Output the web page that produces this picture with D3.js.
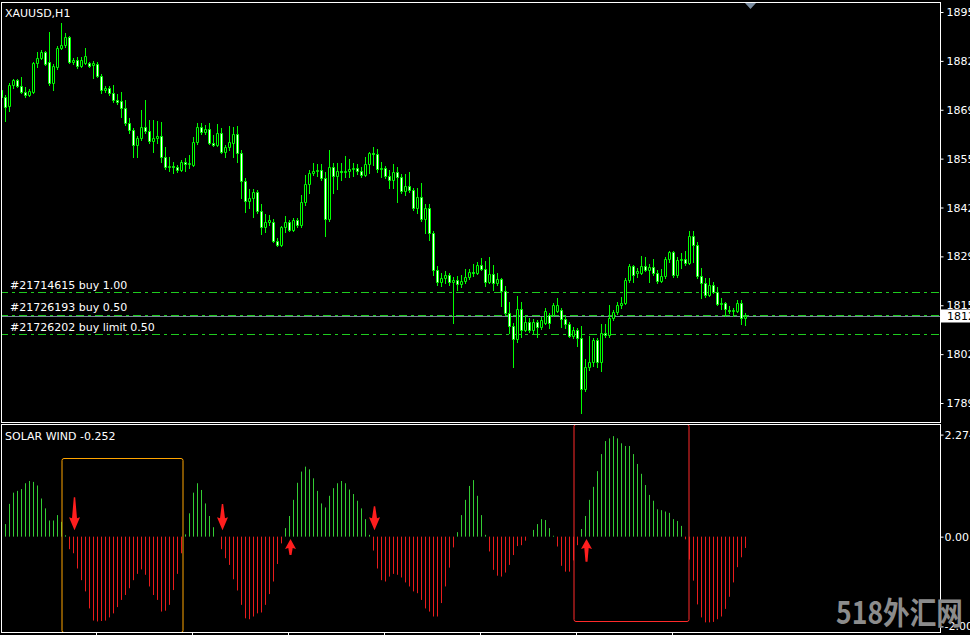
<!DOCTYPE html>
<html><head><meta charset="utf-8">
<script src="https://cdn.jsdelivr.net/npm/d3@7"></script>
<style>html,body{margin:0;padding:0;background:#000;overflow:hidden}</style>
</head><body><svg id="c" width="970" height="635"></svg>
<script>
// ---------------- DATA ----------------
const symbolTitle = "XAUUSD,H1";
const indicatorName = "SOLAR WIND";
// hourly candles [open, high, low, close]
const candles = [
[1874.5,1877.0,1871.8,1872.6],[1872.6,1873.1,1866.1,1869.9],[1870.1,1876.4,1868.8,1875.9],[1875.9,1877.5,1875.1,1877.2],
[1877.2,1877.5,1875.3,1875.6],[1875.6,1878.1,1873.7,1874.0],[1874.0,1875.3,1872.6,1873.1],[1873.1,1874.8,1872.9,1874.2],
[1874.0,1882.1,1873.7,1881.9],[1881.9,1884.9,1880.8,1883.2],[1883.2,1885.4,1883.0,1884.9],[1884.9,1885.1,1881.3,1881.6],
[1882.1,1890.3,1875.9,1876.4],[1876.4,1881.6,1874.5,1881.0],[1880.8,1886.5,1880.2,1885.9],[1885.9,1892.8,1885.7,1886.8],
[1886.8,1890.0,1886.2,1888.9],[1888.9,1889.2,1881.9,1882.1],[1882.1,1883.2,1881.6,1882.7],[1882.7,1883.5,1880.5,1881.0],
[1881.0,1883.5,1880.8,1882.7],[1881.9,1885.9,1881.6,1883.8],[1881.9,1882.1,1880.8,1881.0],[1881.3,1882.4,1877.8,1881.9],
[1881.6,1882.1,1878.1,1878.3],[1878.3,1878.9,1873.7,1874.5],[1874.5,1875.6,1874.0,1875.1],[1875.1,1875.6,1873.1,1873.7],
[1873.7,1875.9,1871.2,1871.8],[1871.8,1873.4,1870.7,1871.2],[1871.5,1874.0,1867.2,1869.6],[1869.6,1871.8,1865.0,1865.5],
[1865.5,1866.9,1862.8,1863.6],[1863.6,1864.2,1856.2,1859.5],[1859.5,1862.0,1856.2,1861.4],[1861.4,1869.1,1860.9,1864.4],
[1864.4,1871.8,1862.8,1863.3],[1863.3,1866.3,1860.1,1860.6],[1860.6,1866.3,1857.6,1861.4],[1861.4,1866.1,1860.1,1862.0],
[1862.0,1865.8,1854.9,1856.2],[1856.2,1859.0,1853.0,1853.5],[1853.5,1856.2,1852.4,1853.8],[1853.8,1854.9,1851.9,1853.5],
[1853.5,1854.1,1852.2,1852.7],[1852.7,1855.4,1852.4,1854.9],[1854.9,1856.0,1852.4,1854.3],[1854.3,1856.8,1853.3,1854.6],
[1854.1,1861.7,1853.8,1860.3],[1860.3,1865.5,1859.8,1864.4],[1864.4,1865.5,1862.5,1863.1],[1863.1,1865.0,1862.5,1863.9],
[1863.9,1865.5,1859.8,1860.1],[1860.1,1862.2,1859.2,1859.5],[1859.5,1865.2,1859.2,1862.8],[1862.8,1864.2,1857.3,1857.6],
[1857.6,1859.5,1856.2,1859.0],[1859.0,1864.7,1858.2,1860.3],[1860.1,1864.4,1856.2,1862.5],[1862.5,1864.7,1854.9,1857.3],
[1857.3,1858.2,1845.1,1849.7],[1849.7,1850.5,1841.3,1844.3],[1844.3,1847.5,1842.4,1845.1],[1845.1,1847.5,1839.9,1846.7],
[1846.7,1847.3,1841.0,1841.5],[1841.5,1843.4,1835.3,1837.2],[1837.2,1840.7,1835.8,1838.5],[1838.5,1840.4,1837.7,1839.1],
[1838.5,1839.4,1833.1,1833.4],[1833.4,1834.2,1832.0,1832.3],[1832.3,1837.4,1832.0,1837.2],[1837.2,1840.2,1835.8,1838.5],
[1838.5,1839.1,1836.1,1836.4],[1836.4,1839.6,1836.1,1839.1],[1839.1,1839.6,1837.2,1837.7],[1837.7,1845.9,1837.2,1844.0],
[1844.0,1851.3,1843.2,1848.9],[1848.9,1852.7,1846.4,1851.9],[1851.9,1854.6,1851.3,1852.4],[1852.4,1854.3,1851.1,1852.7],
[1852.7,1854.3,1850.0,1850.5],[1850.5,1852.2,1834.7,1839.4],[1839.4,1858.2,1838.8,1853.5],[1853.5,1854.6,1846.4,1851.1],
[1851.1,1854.6,1847.5,1852.4],[1852.4,1854.6,1850.0,1852.2],[1852.2,1856.5,1850.8,1852.4],[1852.4,1855.7,1850.8,1853.0],
[1853.0,1854.6,1851.1,1853.3],[1853.3,1854.3,1851.6,1852.4],[1852.4,1853.5,1850.8,1851.3],[1851.3,1856.2,1851.1,1854.3],
[1854.3,1857.6,1851.9,1857.3],[1857.3,1859.0,1854.1,1857.1],[1857.1,1858.4,1852.2,1853.0],[1853.0,1854.9,1850.8,1853.3],
[1853.3,1853.8,1850.5,1851.1],[1851.1,1852.7,1847.8,1850.0],[1850.0,1854.3,1847.8,1852.2],[1852.2,1853.5,1844.0,1850.8],
[1850.8,1851.6,1846.4,1847.0],[1847.0,1851.6,1845.9,1848.3],[1848.3,1852.2,1846.7,1847.3],[1847.3,1847.8,1841.8,1842.4],
[1842.4,1847.8,1841.0,1845.4],[1845.4,1849.2,1838.8,1839.4],[1839.4,1843.4,1835.5,1842.4],[1842.4,1843.4,1833.6,1835.5],
[1835.5,1836.1,1824.1,1825.5],[1825.5,1826.5,1821.4,1822.2],[1822.2,1824.6,1821.1,1823.3],[1823.3,1825.2,1821.9,1824.1],
[1824.1,1824.6,1821.4,1822.2],[1822.2,1823.5,1811.0,1822.7],[1822.7,1823.8,1820.0,1821.6],[1821.6,1824.1,1820.8,1822.5],
[1822.5,1825.7,1821.9,1823.5],[1823.5,1825.7,1823.0,1824.9],[1824.9,1827.1,1823.8,1824.6],[1824.6,1827.6,1824.4,1826.8],
[1826.8,1828.7,1825.5,1825.7],[1825.7,1827.9,1821.1,1822.2],[1822.2,1829.0,1821.9,1824.4],[1824.4,1826.8,1820.0,1821.9],
[1821.9,1824.6,1821.4,1823.0],[1823.0,1823.2,1815.6,1819.7],[1819.7,1821.1,1813.2,1813.7],[1813.7,1816.7,1808.3,1810.2],
[1810.2,1811.0,1799.0,1806.6],[1806.6,1818.4,1805.8,1814.8],[1814.8,1816.7,1807.2,1809.1],[1809.1,1813.2,1808.8,1811.3],
[1811.3,1812.4,1808.6,1809.1],[1809.1,1812.1,1808.3,1811.3],[1811.3,1811.8,1807.2,1809.9],[1809.9,1812.6,1809.4,1811.8],
[1811.0,1815.1,1810.7,1814.3],[1813.2,1813.7,1809.6,1811.0],[1813.2,1816.5,1812.9,1815.9],[1814.3,1817.8,1814.0,1815.9],
[1814.6,1815.1,1809.9,1812.1],[1812.1,1813.2,1809.6,1810.7],[1810.7,1811.3,1807.2,1807.5],[1807.5,1809.9,1806.9,1809.1],
[1809.1,1809.6,1804.7,1806.9],[1806.9,1810.2,1786.5,1793.0],[1793.0,1801.2,1792.5,1799.0],[1799.0,1807.5,1798.2,1800.4],
[1800.4,1806.9,1799.3,1806.4],[1806.4,1806.9,1799.0,1800.4],[1800.4,1810.7,1797.9,1808.3],[1808.3,1810.7,1807.2,1807.7],
[1807.7,1815.9,1807.2,1812.4],[1812.4,1814.6,1811.8,1814.0],[1814.0,1816.7,1813.5,1815.9],[1815.9,1818.1,1815.1,1816.5],
[1816.5,1823.3,1816.2,1822.7],[1822.7,1827.1,1822.2,1826.5],[1826.5,1826.8,1822.2,1824.1],[1824.6,1826.0,1823.5,1825.2],
[1824.6,1829.3,1824.4,1826.5],[1826.5,1829.0,1825.2,1825.5],[1825.5,1827.1,1822.2,1826.3],[1826.3,1828.4,1824.1,1824.6],
[1824.6,1825.5,1821.9,1822.5],[1822.5,1825.7,1822.2,1823.8],[1823.8,1829.0,1823.3,1828.4],[1828.4,1830.6,1827.6,1830.4],
[1830.4,1830.6,1823.5,1824.1],[1824.1,1829.0,1823.5,1828.2],[1828.2,1830.1,1826.0,1828.4],[1828.4,1830.6,1826.8,1827.4],
[1827.4,1836.1,1827.1,1834.7],[1834.7,1836.1,1827.6,1832.3],[1832.3,1833.1,1823.3,1823.8],[1823.8,1826.0,1817.8,1821.9],
[1821.9,1823.3,1818.1,1818.6],[1818.6,1823.3,1818.4,1821.4],[1821.4,1822.2,1819.2,1819.5],[1819.5,1820.8,1815.9,1816.2],
[1816.2,1817.8,1814.8,1816.5],[1816.5,1816.7,1812.9,1814.8],[1814.6,1815.6,1813.7,1814.3],[1814.3,1815.1,1812.9,1814.6],
[1814.3,1817.3,1814.0,1816.5],[1816.5,1817.3,1810.7,1812.4],[1812.4,1813.7,1810.5,1812.9]
];
// SOLAR WIND histogram, one value per candle
const solarWind = [
-0.16,0.28,0.73,0.98,1.02,1.06,1.19,1.24,1.22,1.14,
0.85,0.63,0.36,0.36,0.48,0.33,0.03,-0.28,-0.37,-0.71,
-0.97,-1.22,-1.60,-1.87,-1.89,-1.88,-1.87,-1.80,-1.71,-1.57,
-1.41,-1.30,-1.15,-0.97,-0.83,-0.73,-0.85,-1.11,-1.30,-1.41,
-1.67,-1.65,-1.52,-1.19,-0.83,-0.37,0.05,0.52,0.98,1.19,
1.04,0.74,0.46,0.21,0.0,-0.28,-0.48,-0.63,-0.95,-1.20,
-1.52,-1.82,-1.84,-1.78,-1.71,-1.69,-1.52,-1.28,-1.00,-0.61,
-0.15,0.19,0.46,0.82,1.20,1.45,1.56,1.50,1.30,1.02,
0.74,0.65,0.91,1.08,1.19,1.24,1.19,1.05,0.95,0.80,
0.63,0.39,0.04,-0.31,-0.71,-0.97,-1.00,-0.89,-0.83,-0.85,
-0.91,-1.02,-1.11,-1.22,-1.26,-1.41,-1.60,-1.67,-1.78,-1.78,
-1.48,-1.11,-0.69,-0.24,0.10,0.48,0.82,1.13,1.26,0.91,
0.48,0.04,-0.33,-0.74,-0.87,-0.89,-0.80,-0.63,-0.41,-0.21,
-0.19,-0.09,0.0,0.15,0.28,0.39,0.37,0.19,0.02,-0.22,
-0.65,-0.78,-0.78,-0.53,-0.19,0.17,0.46,0.82,1.11,1.46,
1.84,2.13,2.19,2.24,2.19,2.08,2.02,2.02,1.84,1.62,
1.40,1.15,0.93,0.80,0.61,0.59,0.56,0.53,0.39,0.35,
0.24,-0.06,-0.51,-0.98,-1.51,-1.80,-1.91,-1.91,-1.90,-1.84,
-1.78,-1.61,-1.34,-1.02,-0.68,-0.46,-0.252
];
const priceTicks = [1789.20,1802.52,1815.84,1829.16,1842.48,1855.80,1869.12,1882.44,1895.76];
const indicatorTicks = [2.274, 0, -2];
const timeTickBars = [24,48,72,96,120,144,168];
const orderLabels = ["#21714615 buy 1.00","#21726193 buy 0.50","#21726202 buy limit 0.50"];
const orderPrices = [1819.45,1813.20,1808.00];
const bidPrice = 1812.90;
const sellSignalBars = [18,55,93];
const sellSignalFrom = [0.88,0.73,0.68];
const buySignalBars = [72,146];
const buySignalTo = [-0.41,-0.56];
const zoneStartBars = [15,143];
const zoneEndBars = [45,171.5];
const zoneTop = [1.76,2.5];
const zoneBottom = [-2.12,-1.88];
const watermark = "518外汇网";

// ---------------- DRAW ----------------
const svg = d3.select("#c");
const FONT = "'DejaVu Sans', Tahoma, sans-serif";
const LIME = "#00ff00";
const hy = s => s.replace(/\u2212/g, "-");
svg.append("rect").attr("width",970).attr("height",635).attr("fill","#000");

const x = d3.scaleLinear().domain([0, candles.length-1]).range([1.5, 1.5+4*(candles.length-1)]);
const yP = d3.scaleLinear().domain([priceTicks[0], priceTicks[priceTicks.length-1]]).range([403,12]);
const yI = d3.scaleLinear().domain([-2, 2.274]).range([626.4, 434.6]);

const main = svg.append("g");
main.append("clipPath").attr("id","clipMain").append("rect").attr("x",1).attr("y",3).attr("width",939).attr("height",419);
const mc = main.append("g").attr("clip-path","url(#clipMain)");

// order lines
orderPrices.forEach((p,i)=>{
  mc.append("line").attr("x1",0).attr("x2",940).attr("y1",Math.round(yP(p))+0.5).attr("y2",Math.round(yP(p))+0.5)
    .attr("stroke","#1fcc1f").attr("stroke-width",1).attr("stroke-dasharray","8,4,3,4");
});
// bid line
mc.append("line").attr("x1",0).attr("x2",940).attr("y1",Math.round(yP(bidPrice))+0.5).attr("y2",Math.round(yP(bidPrice))+0.5)
  .attr("stroke","#778899").attr("stroke-width",1);

// candles
const cg = mc.append("g");
cg.selectAll("line.w").data(candles).join("line").attr("class","w")
  .attr("x1",(d,i)=>x(i)).attr("x2",(d,i)=>x(i))
  .attr("y1",d=>Math.round(yP(d[1]))).attr("y2",d=>Math.round(yP(d[2]))+1)
  .attr("stroke",LIME).attr("stroke-width",1);
cg.selectAll("path.b").data(candles).join("path").attr("class","b")
  .attr("d",(d,i)=>{
    const t = Math.round(yP(Math.max(d[0],d[3])))+0.5;
    const b = Math.round(yP(Math.min(d[0],d[3])))+0.5;
    const x0 = x(i)-1;
    return `M${x0},${t}h2v${b-t}h-2z`;
  })
  .attr("fill",d=>d[3]>=d[0]?"#000":"#fff")
  .attr("stroke",LIME).attr("stroke-width",1);

// order labels
orderPrices.forEach((p,i)=>{
  main.append("text").attr("x",10).attr("y",yP(p)-3.5).text(orderLabels[i])
    .attr("fill","#fff").attr("font-family",FONT).attr("font-size",11);
});
main.append("text").attr("x",5).attr("y",17).text(symbolTitle)
  .attr("fill","#fff").attr("font-family",FONT).attr("font-size",11);

// chart shift marker
main.append("path").attr("d","M745,3L756,3L750.5,9Z").attr("fill","#7a8ca0");

// frames
svg.append("rect").attr("x",1.5).attr("y",2.5).attr("width",939).attr("height",420)
  .attr("fill","none").attr("stroke","#fff");
svg.append("rect").attr("x",1.5).attr("y",424.5).attr("width",939).attr("height",208)
  .attr("fill","none").attr("stroke","#fff");

// price axis
const pa = svg.append("g").attr("transform","translate(940.5,0)")
  .call(d3.axisRight(yP).tickValues(priceTicks).tickSize(3).tickPadding(3).tickFormat(d3.format(".2f")));
pa.select(".domain").remove();
pa.selectAll("line").attr("stroke","#fff");
pa.selectAll("text").attr("fill","#fff").attr("font-family",FONT).attr("font-size",11);

// bid price box
svg.append("rect").attr("x",941).attr("y",Math.round(yP(bidPrice))-6.5).attr("width",30).attr("height",13).attr("fill","#fff");
svg.append("text").attr("x",947).attr("y",yP(bidPrice)).attr("dy","0.35em").text(d3.format(".2f")(bidPrice))
  .attr("fill","#000").attr("font-family",FONT).attr("font-size",11);

// ---------------- indicator ----------------
const ind = svg.append("g");
ind.append("clipPath").attr("id","clipInd").append("rect").attr("x",2).attr("y",425).attr("width",938).attr("height",207);
const ic = ind.append("g").attr("clip-path","url(#clipInd)");
const y0 = yI(0);
ic.selectAll("line.h").data(solarWind).join("line").attr("class","h")
  .attr("x1",(d,i)=>x(i)).attr("x2",(d,i)=>x(i))
  .attr("y1",y0).attr("y2",d=>yI(d))
  .attr("stroke",d=>d>=0?"#33cc33":"#e81c1c").attr("stroke-width",1);

// zones
const zoneColors = ["#ffa500","#ff2a2a"];
zoneStartBars.forEach((s,i)=>{
  const x0 = x(s)+0.5, x1 = x(zoneEndBars[i])+1.5;
  const t = Math.round(yI(zoneTop[i]))+0.5, b = Math.round(yI(zoneBottom[i]))+0.5;
  ic.append("path").attr("d",`M${x0+2},${t}H${x1-2}Q${x1},${t} ${x1},${t+2}V${b-2}Q${x1},${b} ${x1-2},${b}H${x0+2}Q${x0},${b} ${x0},${b-2}V${t+2}Q${x0},${t} ${x0+2},${t}Z`)
    .attr("fill","none").attr("stroke",zoneColors[i]).attr("stroke-width",1);
});

// signal arrows
const ARROW = "#ff1e1e";
sellSignalBars.forEach((k,i)=>{
  const cx = x(k)+1, top = yI(sellSignalFrom[i]), tip = yI(0.14), hs = tip-12;
  ic.append("path").attr("d",`M${cx-0.7},${top}L${cx+0.7},${top}L${cx+2.5},${hs}L${cx+5.5},${hs-1}L${cx},${tip}L${cx-5.5},${hs-1}L${cx-2.5},${hs}Z`)
    .attr("fill",ARROW);
});
buySignalBars.forEach((k,i)=>{
  const cx = x(k)+1, bot = yI(buySignalTo[i]), tip = yI(-0.05), hs = tip+9;
  ic.append("path").attr("d",`M${cx-1},${bot}L${cx+1},${bot}L${cx+2.2},${hs}L${cx+5.5},${hs+1}L${cx},${tip}L${cx-5.5},${hs+1}L${cx-2.2},${hs}Z`)
    .attr("fill",ARROW);
});

ind.append("text").attr("x",5).attr("y",440).text(indicatorName+" "+hy(d3.format(".3f")(solarWind[solarWind.length-1])))
  .attr("fill","#fff").attr("font-family",FONT).attr("font-size",11);

const ia = svg.append("g").attr("transform","translate(940.5,0)")
  .call(d3.axisRight(yI).tickValues(indicatorTicks).tickSize(3).tickPadding(1)
    .tickFormat(d=>d===2.274?"2.274":hy(d3.format(".2f")(d))));
ia.select(".domain").remove();
ia.selectAll("line").attr("stroke","#fff");
ia.selectAll("text").attr("fill","#fff").attr("font-family",FONT).attr("font-size",11);

// time ticks
svg.selectAll("line.tt").data(timeTickBars).join("line").attr("class","tt")
  .attr("x1",d=>x(d)-1).attr("x2",d=>x(d)-1).attr("y1",633).attr("y2",635).attr("stroke","#fff");

// watermark
svg.append("text").attr("x",836).attr("y",624).text(watermark)
  .attr("fill","#8c8c8c").attr("font-family","'Noto Sans CJK SC', sans-serif").attr("font-weight","bold")
  .attr("font-size",31).attr("textLength",127).attr("lengthAdjust","spacingAndGlyphs");
</script></body></html>
